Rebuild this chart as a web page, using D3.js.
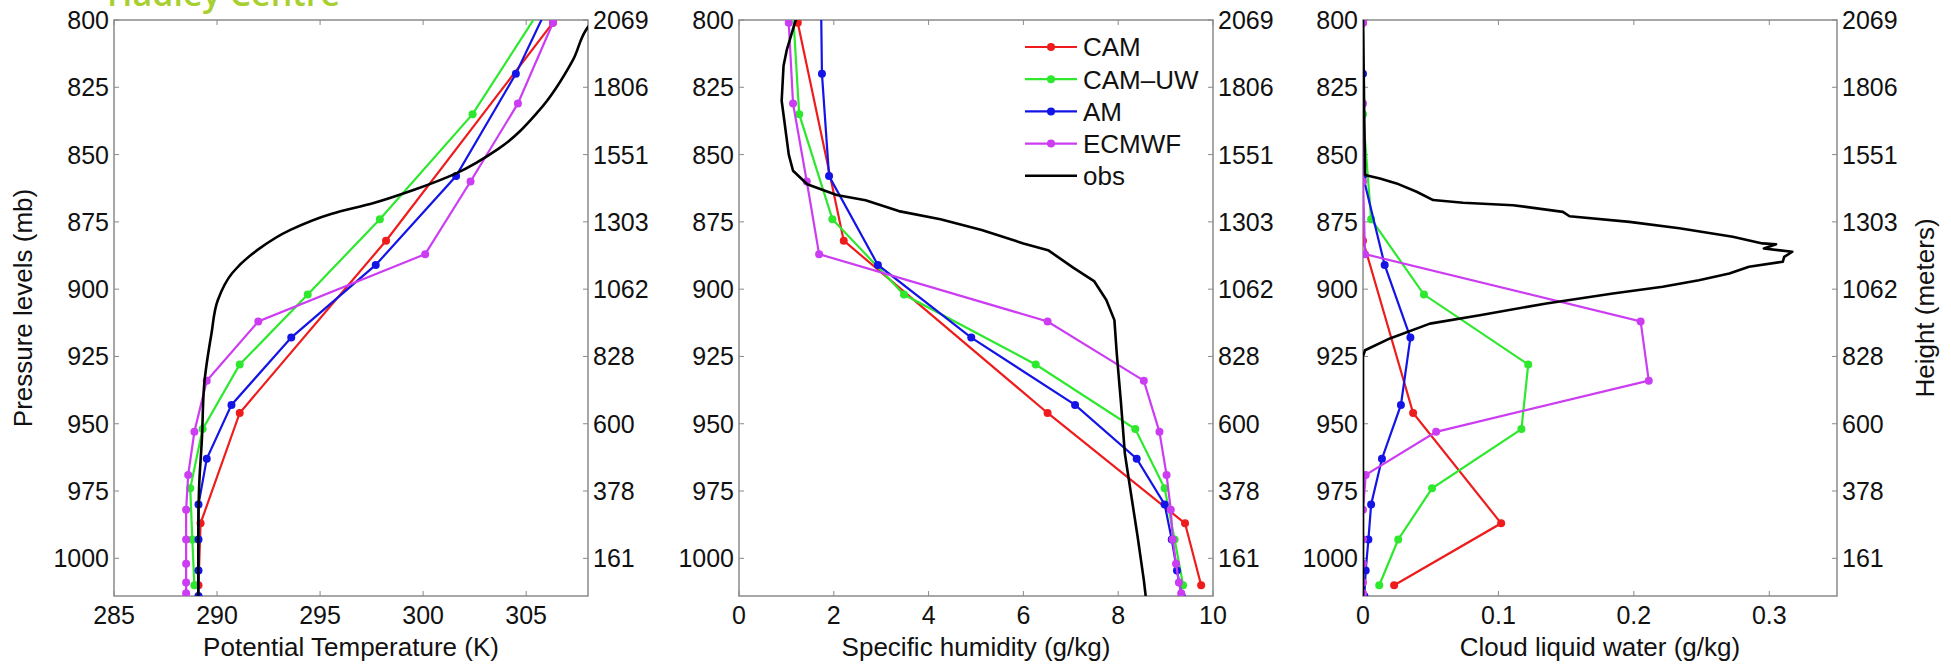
<!DOCTYPE html>
<html>
<head>
<meta charset="utf-8">
<script src="https://cdn.jsdelivr.net/npm/d3@7"></script>
<style>
  body { margin: 0; background: #fff; }
  svg text { font-family: "Liberation Sans", Arial, Helvetica, sans-serif; fill: #111; }
</style>
</head>
<body>
<script>
// Pressure ticks (mb) and the matching heights (m) shown on the right axes
const pressureTicks = [800, 825, 850, 875, 900, 925, 950, 975, 1000];
const heightLabels = ["2069", "1806", "1551", "1303", "1062", "828", "600", "378", "161"];

const seriesNames = ["CAM", "CAM\u2013UW", "AM", "ECMWF", "obs"];
const seriesColors = ["#ee1c1c", "#2de82d", "#1414e6", "#cc3cf2", "#000000"];

// CAM
const camLev   = [801, 882, 946, 987, 1010];
const camTheta = [306.3, 298.2, 291.1, 289.2, 289.1];
const camQ     = [1.24, 2.21, 6.51, 9.41, 9.75];
const camQl    = [0, 0, 0.037, 0.102, 0.023];

// CAM-UW
const uwLev   = [797, 835, 874, 902, 928, 952, 974, 993, 1010];
const uwTheta = [305.6, 302.4, 297.9, 294.4, 291.1, 289.3, 288.7, 288.8, 288.9];
const uwQ     = [1.14, 1.27, 1.97, 3.48, 6.26, 8.36, 8.98, 9.19, 9.37];
const uwQl    = [0, 0, 0.006, 0.045, 0.122, 0.117, 0.051, 0.026, 0.012];

// AM
const amLev   = [778, 820, 858, 891, 918, 943, 963, 980, 993, 1004.5, 1014];
const amTheta = [307.1, 304.5, 301.6, 297.7, 293.6, 290.7, 289.5, 289.1, 289.1, 289.1, 289.1];
const amQ     = [1.72, 1.75, 1.90, 2.93, 4.90, 7.09, 8.39, 8.98, 9.13, 9.24, 9.34];
const amQl    = [0, 0, 0, 0.016, 0.035, 0.028, 0.014, 0.006, 0.004, 0.002, 0.001];

// ECMWF
const ecLev   = [801, 831, 860, 887, 912, 934, 953, 969, 982, 993, 1002, 1009, 1013];
const ecTheta = [306.3, 304.6, 302.3, 300.1, 292.0, 289.5, 288.9, 288.6, 288.5, 288.5, 288.5, 288.5, 288.5];
const ecQ     = [1.05, 1.14, 1.43, 1.69, 6.51, 8.54, 8.87, 9.02, 9.11, 9.15, 9.22, 9.28, 9.33];
const ecQl    = [0, 0, 0, 0.0015, 0.205, 0.211, 0.054, 0.002, 0, 0, 0, 0, 0];

// observations (read at their own levels)
const obsThetaLev = [795, 802, 815, 833.5, 848, 857, 863, 868, 872, 878, 885.5, 894, 904, 916.5, 936, 955, 973.5, 992, 1014];
const obsTheta    = [309.0, 308.06, 307.26, 305.64, 303.63, 301.6, 299.6, 297.6, 295.57, 293.56, 291.95, 290.74, 290.04, 289.73, 289.37, 289.27, 289.13, 289.09, 289.09];

const obsQLev = [799, 801, 811, 817, 830, 838, 850, 856, 861, 865, 867, 871, 874, 878, 883, 885.5, 892, 897, 904, 911.5, 924, 942.5, 961, 976, 992, 1008, 1014];
const obsQ    = [1.22, 1.18, 1.01, 0.94, 0.90, 0.96, 1.05, 1.14, 1.44, 2.06, 2.67, 3.37, 4.25, 5.12, 6.0, 6.52, 7.05, 7.49, 7.75, 7.92, 7.97, 8.06, 8.14, 8.27, 8.41, 8.54, 8.58];

const obsQlLev = [799, 857.6, 858.9, 860.7, 863.8, 866.9, 867.9, 868.8, 871.3, 872.9, 875, 877.4, 880.5, 883, 883.3, 884.9, 886.1, 888, 889.8, 891.7, 894.2, 896.7, 899.1, 901.6, 905.3, 909.7, 912.8, 918.3, 922.7, 925, 1014];
const obsQl    = [0, 0.0015, 0.0125, 0.0248, 0.0396, 0.0518, 0.0739, 0.1108, 0.1476, 0.1525, 0.1968, 0.2336, 0.273, 0.295, 0.305, 0.296, 0.317, 0.311, 0.31, 0.285, 0.2705, 0.248, 0.2213, 0.1845, 0.1354, 0.0862, 0.0494, 0.0199, 0.0015, 0, 0];

const thetaTicks = [285, 290, 295, 300, 305];
const qTicks = [0, 2, 4, 6, 8, 10];
const qlTicks = [0, 0.1, 0.2, 0.3];

const zip = (lev, val) => lev.map((p, i) => ({p: p, v: val[i]}));

const panels = [
  { domain: [285, 308], ticks: thetaTicks, title: "Potential Temperature (K)",
    models: [zip(camLev, camTheta), zip(uwLev, uwTheta), zip(amLev, amTheta), zip(ecLev, ecTheta)],
    obs: zip(obsThetaLev, obsTheta), smoothObs: true },
  { domain: [0, 10], ticks: qTicks, title: "Specific humidity (g/kg)",
    models: [zip(camLev, camQ), zip(uwLev, uwQ), zip(amLev, amQ), zip(ecLev, ecQ)],
    obs: zip(obsQLev, obsQ), smoothObs: false, legend: true },
  { domain: [0, 0.35], ticks: qlTicks, title: "Cloud liquid water (g/kg)",
    models: [zip(camLev, camQl), zip(uwLev, uwQl), zip(amLev, amQl), zip(ecLev, ecQl)],
    obs: zip(obsQlLev, obsQl), smoothObs: false }
];

const W = 1951, H = 664;
const plotTop = 20, plotH = 576, plotW = 474;
const panelX = [114, 739, 1363];
const axisColor = "#8a8a8a";
const tickFont = 25, titleFont = 26;

const svg = d3.select("body").append("svg")
    .attr("width", W)
    .attr("height", H)
    .style("background", "white");

// faint logo text, cut off by the top edge just like in the original
svg.append("text")
    .attr("x", 107)
    .attr("y", 6)
    .style("font-family", "'Open Sans', sans-serif")
    .style("font-weight", 600)
    .style("font-size", "34px")
    .style("fill", "#a8cf30")
    .text("Hadley Centre");

const y = d3.scaleLinear().domain([800, 1014]).range([plotTop, plotTop + plotH]);

panels.forEach((cfg, i) => {
  const x0 = panelX[i];
  const x = d3.scaleLinear().domain(cfg.domain).range([x0, x0 + plotW]);
  const g = svg.append("g");

  const clipId = "clip" + i;
  svg.append("clipPath").attr("id", clipId)
    .append("rect")
      .attr("x", x0).attr("y", plotTop)
      .attr("width", plotW).attr("height", plotH);

  // frame
  g.append("rect")
      .attr("x", x0).attr("y", plotTop)
      .attr("width", plotW).attr("height", plotH)
      .attr("fill", "none")
      .attr("stroke", axisColor)
      .attr("stroke-width", 1.5);

  // x ticks (inside, top and bottom)
  cfg.ticks.forEach(t => {
    const xp = x(t);
    g.append("line").attr("x1", xp).attr("x2", xp)
        .attr("y1", plotTop + plotH).attr("y2", plotTop + plotH - 5)
        .attr("stroke", axisColor);
    g.append("line").attr("x1", xp).attr("x2", xp)
        .attr("y1", plotTop).attr("y2", plotTop + 5)
        .attr("stroke", axisColor);
    g.append("text")
        .attr("x", xp).attr("y", plotTop + plotH + 28)
        .attr("text-anchor", "middle")
        .style("font-size", tickFont + "px")
        .text(t);
  });

  // y ticks, pressure on the left and height on the right
  pressureTicks.forEach((p, k) => {
    const yp = y(p);
    g.append("line").attr("x1", x0).attr("x2", x0 + 5)
        .attr("y1", yp).attr("y2", yp).attr("stroke", axisColor);
    g.append("line").attr("x1", x0 + plotW).attr("x2", x0 + plotW - 5)
        .attr("y1", yp).attr("y2", yp).attr("stroke", axisColor);
    g.append("text")
        .attr("x", x0 - 5).attr("y", yp)
        .attr("dy", "0.36em")
        .attr("text-anchor", "end")
        .style("font-size", tickFont + "px")
        .text(p);
    g.append("text")
        .attr("x", x0 + plotW + 5).attr("y", yp)
        .attr("dy", "0.36em")
        .attr("text-anchor", "start")
        .style("font-size", tickFont + "px")
        .text(heightLabels[k]);
  });

  g.append("text")
      .attr("x", x0 + plotW / 2).attr("y", 656)
      .attr("text-anchor", "middle")
      .style("font-size", titleFont + "px")
      .text(cfg.title);

  // data
  const plot = g.append("g").attr("clip-path", `url(#${clipId})`);
  const line = d3.line().x(d => x(d.v)).y(d => y(d.p));

  cfg.models.forEach((pts, s) => {
    plot.append("path")
        .datum(pts)
        .attr("d", line)
        .attr("fill", "none")
        .attr("stroke", seriesColors[s])
        .attr("stroke-width", 2.2);
    plot.selectAll(null)
        .data(pts)
        .join("circle")
        .attr("cx", d => x(d.v))
        .attr("cy", d => y(d.p))
        .attr("r", 4)
        .attr("fill", seriesColors[s]);
  });

  const obsLine = d3.line().x(d => x(d.v)).y(d => y(d.p))
      .curve(cfg.smoothObs ? d3.curveMonotoneY : d3.curveLinear);
  plot.append("path")
      .datum(cfg.obs)
      .attr("d", obsLine)
      .attr("fill", "none")
      .attr("stroke", seriesColors[4])
      .attr("stroke-width", 2.6)
      .attr("stroke-linejoin", "round");

  // legend (no box)
  if (cfg.legend) {
    const lg = g.append("g");
    seriesNames.forEach((name, s) => {
      const ly = 47 + s * 32.2;
      lg.append("line")
          .attr("x1", 1025).attr("x2", 1077)
          .attr("y1", ly).attr("y2", ly)
          .attr("stroke", seriesColors[s])
          .attr("stroke-width", s === 4 ? 2.6 : 2.2);
      if (s < 4) {
        lg.append("circle")
            .attr("cx", 1051).attr("cy", ly).attr("r", 4)
            .attr("fill", seriesColors[s]);
      }
      lg.append("text")
          .attr("x", 1083).attr("y", ly)
          .attr("dy", "0.36em")
          .style("font-size", titleFont + "px")
          .text(name);
    });
  }
});

// outer axis titles
svg.append("text")
    .attr("transform", `translate(32,${plotTop + plotH / 2}) rotate(-90)`)
    .attr("text-anchor", "middle")
    .style("font-size", titleFont + "px")
    .text("Pressure levels (mb)");

svg.append("text")
    .attr("transform", `translate(1934,${plotTop + plotH / 2}) rotate(-90)`)
    .attr("text-anchor", "middle")
    .style("font-size", titleFont + "px")
    .text("Height (meters)");
</script>
</body>
</html>
